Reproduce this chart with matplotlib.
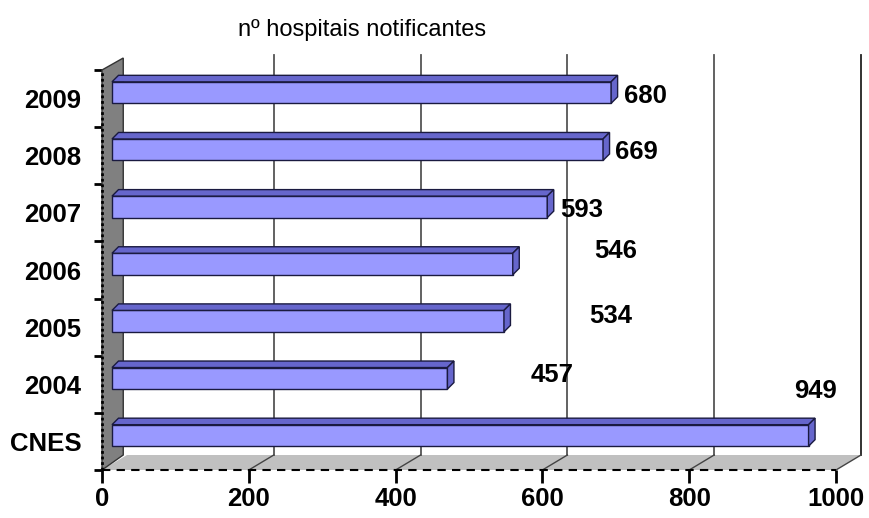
import matplotlib.pyplot as plt
from matplotlib.patches import Polygon, Rectangle

plt.rcParams['font.family'] = ['Liberation Sans', 'DejaVu Sans']

# dados
categorias = ['CNES', '2004', '2005', '2006', '2007', '2008', '2009']
valores = [949, 457, 534, 546, 593, 669, 680]
xticks = [0, 200, 400, 600, 800, 1000]
titulo = 'nº hospitais notificantes'

# deslocamento dos rótulos de valor (pixels, a partir do fim da barra no plano frontal)
desloc_rotulos = [(17, 53), (115, 12), (117, 14), (113, 22), (44, 5), (43, 6), (44, 5)]

W, H = 869, 518
fig = plt.figure(figsize=(W / 100, H / 100), dpi=100)
ax_l, ax_r, ax_b, ax_t = 102, 836, 48, 448
ax = fig.add_axes([ax_l / W, ax_b / H, (ax_r - ax_l) / W, (ax_t - ax_b) / H])
ax.set_xlim(0, 1000)
ax.set_ylim(-0.5, 6.5)

# conversão pixel -> unidades de dados
px_x = 1000 / (ax_r - ax_l)
px_y = 7 / (ax_t - ax_b)

prof_x, prof_y = 25 * px_x, 15 * px_y   # profundidade da caixa 3D
y0, y1 = -0.5, 6.5

# piso
ax.add_patch(Polygon([(0, y0), (1000, y0), (1000 + prof_x, y0 + prof_y), (prof_x, y0 + prof_y)],
                     closed=True, facecolor='#c0c0c0', edgecolor='none', clip_on=False, zorder=1))
# parede lateral
ax.add_patch(Polygon([(0, y0), (prof_x * 0.85, y0 + prof_y), (prof_x * 0.85, y1 + prof_y * 0.8), (0, y1)],
                     closed=True, facecolor='#808080', edgecolor='#333333', lw=1, clip_on=False, zorder=2))
ax.plot([0, 0], [y0, y1], color='black', lw=2, ls=(0, (1, 1)), clip_on=False, zorder=3)

# linhas de grade na parede do fundo e no piso
for xv in xticks[1:]:
    cor = '#222222' if xv == 1000 else '#555555'
    ax.plot([xv + prof_x, xv + prof_x], [y0 + prof_y, y1 + prof_y], color=cor, lw=1.3,
            clip_on=False, zorder=1.5)
    ax.plot([xv, xv + prof_x], [y0, y0 + prof_y], color='#444444', lw=1, clip_on=False, zorder=1.5)

# borda frontal do piso
ax.plot([0, 1000], [y0, y0], color='black', lw=1.5, ls=(0, (4, 3)), clip_on=False, zorder=3)

# barras 3D
bx, by = 10 * px_x, 6 * px_y        # posição da face frontal
dx, dy = 6.5 * px_x, 6.5 * px_y     # espessura da barra
alt = 21.5 * px_y
for i, v in enumerate(valores):
    yb = i - alt / 2 + by
    ax.add_patch(Rectangle((bx, yb), v, alt, facecolor='#9999ff', edgecolor='#1a1a40',
                           lw=1, clip_on=False, zorder=4))
    ax.add_patch(Polygon([(bx, yb + alt), (bx + v, yb + alt), (bx + v + dx, yb + alt + dy),
                          (bx + dx, yb + alt + dy)], closed=True, facecolor='#6666cc',
                         edgecolor='#1a1a40', lw=1, clip_on=False, zorder=4))
    ax.add_patch(Polygon([(bx + v, yb), (bx + v + dx, yb + dy), (bx + v + dx, yb + alt + dy),
                          (bx + v, yb + alt)], closed=True, facecolor='#6666cc',
                         edgecolor='#1a1a40', lw=1, clip_on=False, zorder=4))
    ox, oy = desloc_rotulos[i]
    ax.annotate(str(v), xy=(v, i), xytext=(ox, oy), textcoords='offset pixels',
                ha='center', va='center_baseline', fontsize=18.5, fontweight='bold', zorder=5)

# eixos
for s in ax.spines.values():
    s.set_visible(False)
ax.patch.set_visible(False)
ax.set_xticks(xticks)
ax.set_xticklabels([str(x) for x in xticks], fontsize=18.5, fontweight='bold')
ax.tick_params(axis='x', direction='out', length=9, width=2, color='black', pad=3)
ax.set_yticks(range(len(categorias)))
ax.set_yticklabels(categorias, fontsize=18.5, fontweight='bold')
ax.tick_params(axis='y', which='major', length=0, pad=15)
ax.set_yticks([k - 0.5 for k in range(len(categorias) + 1)], minor=True)
ax.tick_params(axis='y', which='minor', direction='out', length=6, width=2, color='black')

fig.text(362 / W, 1 - 30 / H, titulo, ha='center', va='center', fontsize=17)

fig.savefig('out.png', dpi=100, facecolor='white')
